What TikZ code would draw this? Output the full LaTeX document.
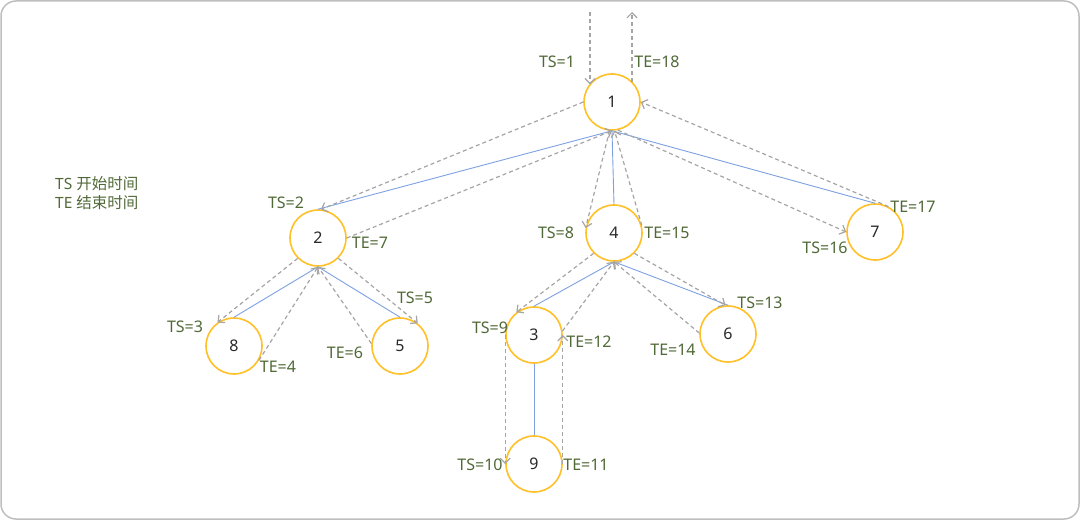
\documentclass[tikz,border=0pt]{standalone}
\usepackage{fontspec}
\setmainfont{Noto Sans}
\newfontfamily\cjk{Noto Sans CJK SC}
\usetikzlibrary{arrows.meta}
\definecolor{vtx}{RGB}{255,192,40}
\definecolor{tree}{RGB}{125,160,225}
\definecolor{trav}{RGB}{165,165,165}
\definecolor{lab}{RGB}{80,105,55}
\definecolor{framec}{RGB}{190,190,190}
\definecolor{num}{RGB}{40,40,40}
\begin{document}
\begin{tikzpicture}[x=1pt,y=-1pt,
 vertex/.style={circle,draw=vtx,line width=1.6pt,fill=white,minimum size=56pt,inner sep=0pt,font=\fontsize{16}{18}\selectfont,text=num},
 treeedge/.style={draw=tree,line width=0.9pt},
 travel/.style={draw=trav,line width=1.2pt,dash pattern=on 4pt off 3pt,-{Straight Barb[length=5pt,width=10pt]}},
 lbl/.style={font=\fontsize{16}{18}\selectfont,text=lab,inner sep=0pt},
 legend/.style={font=\fontsize{15.5}{20}\selectfont,text=lab,inner sep=0pt,anchor=west}]
\useasboundingbox (0,0) rectangle (1080,521);
\draw[framec,line width=1.5pt,rounded corners=15pt] (1,1) rectangle (1079,519);

% vertices
\node[vertex] (n1) at (612,102) {1};
\node[vertex] (n2) at (318,238) {2};
\node[vertex] (n8) at (234,346) {8};
\node[vertex] (n5) at (400,346) {5};
\node[vertex] (n4) at (614,233) {4};
\node[vertex] (n3) at (534,335) {3};
\node[vertex] (n6) at (728,334) {6};
\node[vertex] (n7) at (875,232) {7};
\node[vertex] (n9) at (534,464) {9};

% tree edges
\draw[treeedge] (n1.south) -- (n2.north);
\draw[treeedge] (n1.south) -- (n4.north);
\draw[treeedge] (n1.south) -- (n7.north);
\draw[treeedge] (n2.south) -- (n8.north);
\draw[treeedge] (n2.south) -- (n5.north);
\draw[treeedge] (n4.south) -- (n3.north);
\draw[treeedge] (n4.south) -- (n6.north);
\draw[treeedge] (n3.south) -- (n9.north);

% traversal
\coordinate (inTop) at (590,12);
\coordinate (outTop) at (632,12);
\draw[travel] (inTop) -- (inTop |- n1.142);
\draw[travel] (outTop |- n1.44) -- (outTop);
\draw[travel] (n1.west) -- (n2.84);
\draw[travel] (n2.east) -- (n1.south);
\draw[travel] (n2.225) -- (n8.125);
\draw[travel] (n8.-30) -- (n2.south);
\draw[travel] (n2.-45) -- (n5.52);
\draw[travel] (n5.175) -- (n2.south);
\draw[travel] (n1.-95) -- (n4.170);
\draw[travel] (n4.15) -- (n1.-85);
\draw[travel] (n4.225) -- (n3.128);
\draw[travel] (n3.west) -- (n9.west);
\draw[travel] (n9.east) -- (n3.east);
\draw[travel] (n3.8) -- (n4.south);
\draw[travel] (n4.-45) -- (n6.95);
\draw[travel] (n6.178) -- (n4.south);
\draw[travel] (n1.-78) -- (n7.west);
\draw[travel] (n7.62) -- (n1.east);

% labels
\node[lbl] (l1) at (557,62) {TS=1};
\node[lbl] (l18) at (657,62) {TE=18};
\node[lbl] (l2) at (286,203) {TS=2};
\node[lbl] (l7) at (370,243) {TE=7};
\node[lbl] (l3) at (185,327) {TS=3};
\node[lbl] (l4) at (278,367) {TE=4};
\node[lbl] (l5) at (415,298) {TS=5};
\node[lbl] (l6) at (345,353) {TE=6};
\node[lbl] (l8) at (556,233) {TS=8};
\node[lbl] (l15) at (667,233) {TE=15};
\node[lbl] (l9) at (490,328) {TS=9};
\node[lbl] (l12) at (589,342) {TE=12};
\node[lbl] (l13) at (760,303) {TS=13};
\node[lbl] (l14) at (673,350) {TE=14};
\node[lbl] (l10) at (480,465) {TS=10};
\node[lbl] (l11) at (586,465) {TE=11};
\node[lbl] (l16) at (825,248) {TS=16};
\node[lbl] (l17) at (913,207) {TE=17};

% legend
\node[legend] (legTS) at (55,184) {TS {\cjk 开始时间}};
\node[legend] (legTE) at (55,203) {TE {\cjk 结束时间}};
\end{tikzpicture}
\end{document}
